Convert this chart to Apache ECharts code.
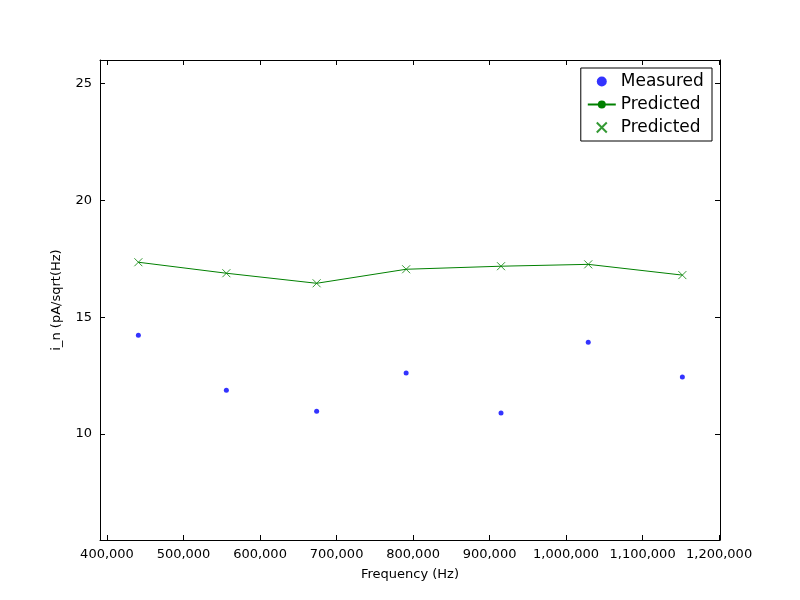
<!DOCTYPE html>
<html><head><meta charset="utf-8">
<script src="https://cdn.jsdelivr.net/npm/echarts@6/dist/echarts.min.js"></script>
<style>html,body{margin:0;padding:0;background:#fff}#c{width:800px;height:600px}</style>
</head><body><div id="c"></div>
<script>
const freqs = [441000, 556000, 674000, 791000, 915000, 1029000, 1152000];
const measured = [14.23, 11.88, 10.98, 12.61, 10.90, 13.93, 12.44];
const predicted = [17.35, 16.88, 16.45, 17.05, 17.18, 17.26, 16.80];
const xTicks = [400000, 500000, 600000, 700000, 800000, 900000, 1000000, 1100000, 1200000];
const yTicks = [10, 15, 20, 25];

const XMIN = 390850, XMAX = 1201200, YMIN = 5.47, YMAX = 26;
const font = 'DejaVu Sans';
const xsym = 'path://M0,0L10,10M10,0L0,10';
function xAx(pos, show) {
  return {type:'value', position:pos, min:XMIN, max:XMAX, splitLine:{show:false},
    axisLine:{show:true, onZero:false, lineStyle:{color:'#000'}},
    axisTick:{show:true, inside:true, length:5, customValues:xTicks, lineStyle:{color:'#000'}},
    axisLabel:{show:show, customValues:xTicks, color:'#000', fontFamily:font, fontSize:13, margin:8}};
}
function yAx(pos, show) {
  return {type:'value', position:pos, min:YMIN, max:YMAX, splitLine:{show:false},
    axisLine:{show:true, onZero:false, lineStyle:{color:'#000'}},
    axisTick:{show:true, inside:true, length:5, customValues:yTicks, lineStyle:{color:'#000'}},
    axisLabel:{show:show, customValues:yTicks, color:'#000', fontFamily:font, fontSize:13, margin:8}};
}
const xa = xAx('bottom', true);
xa.name = 'Frequency (Hz)'; xa.nameLocation = 'middle'; xa.nameGap = 28;
xa.nameTextStyle = {color:'#000', fontFamily:font, fontSize:13};
const ya = yAx('left', true);
ya.name = 'i_n (pA/sqrt(Hz)'; ya.nameLocation = 'middle'; ya.nameGap = 37;
ya.nameTextStyle = {color:'#000', fontFamily:font, fontSize:13};

const chart = echarts.init(document.getElementById('c'));
chart.setOption({
  animation:false,
  grid:{left:100, right:80, top:60, bottom:60},
  xAxis:[xa, xAx('top', false)],
  yAxis:[ya, yAx('right', false)],
  legend:{right:88, top:68, orient:'vertical', itemGap:6, itemWidth:28, itemHeight:10,
    borderColor:'#000', borderWidth:1, borderRadius:0, padding:[5,6,5,6],
    textStyle:{fontFamily:font, fontSize:17, color:'#000'},
    data:[{name:'Measured', icon:'circle'},{name:'Predicted'},{name:'Predicted ', icon:xsym}]},
  series:[
    {name:'Measured', type:'scatter', symbol:'circle', symbolSize:5,
      itemStyle:{color:'#0000ff'}, data:freqs.map((f,i)=>[f, measured[i]])},
    {name:'Predicted', type:'line', showSymbol:false, symbol:'none',
      lineStyle:{color:'#008000', width:1}, itemStyle:{color:'#008000'},
      data:freqs.map((f,i)=>[f, predicted[i]])},
    {name:'Predicted ', type:'scatter', symbol:xsym, symbolSize:8,
      itemStyle:{color:'none', borderColor:'#008000', borderWidth:1},
      data:freqs.map((f,i)=>[f, predicted[i]])}
  ]
});
</script></body></html>
